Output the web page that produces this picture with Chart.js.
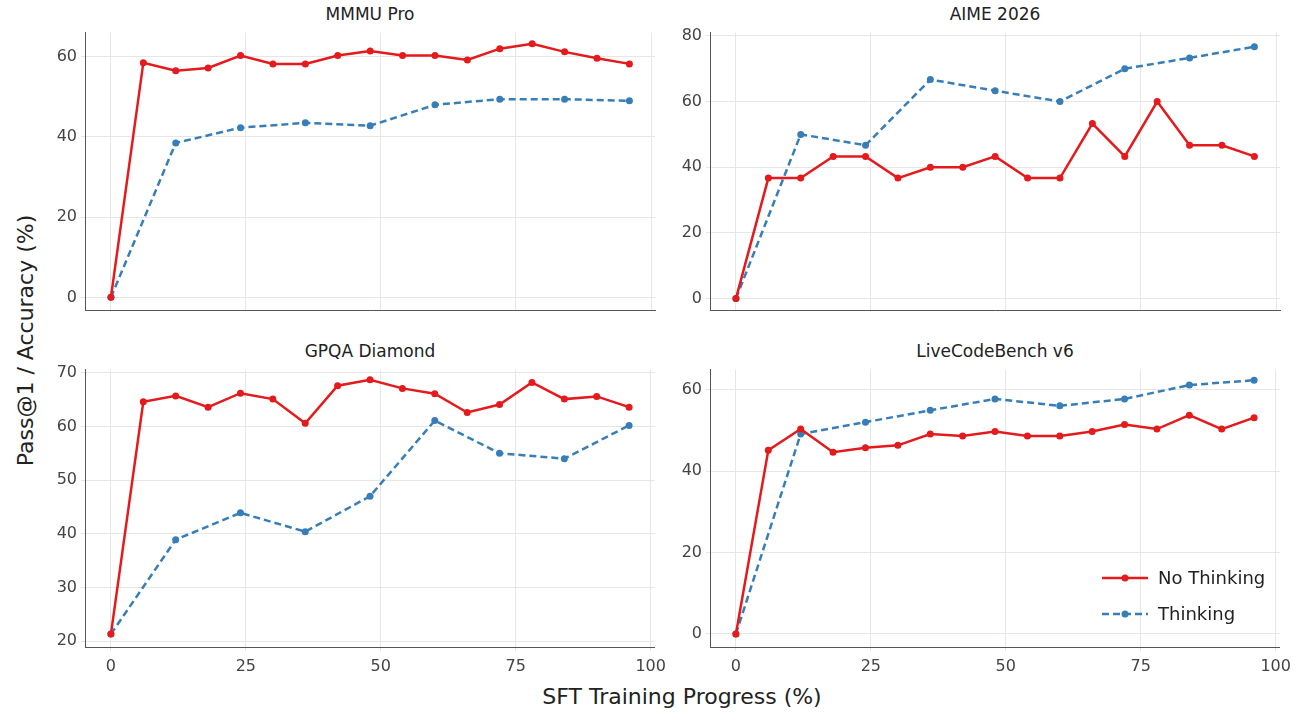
<!DOCTYPE html>
<html><head><meta charset="utf-8">
<script src="https://cdn.jsdelivr.net/npm/chart.js@4"></script>
<style>
body{margin:0;width:1307px;height:726px;background:#fff;font-family:"DejaVu Sans",sans-serif;position:relative;overflow:hidden}
.c{position:absolute}
.t{position:absolute;font-size:17px;color:#222;text-align:center;width:570px}
#leg{position:absolute;left:1100px;top:560px;font-size:18px;color:#222;line-height:36px}
#leg div{display:flex;align-items:center}
#leg svg{margin-right:8px}
</style></head><body>
<div class="t" style="left:85px;top:4px">MMMU Pro</div>
<div class="t" style="left:710px;top:4px">AIME 2026</div>
<div class="t" style="left:85px;top:341px">GPQA Diamond</div>
<div class="t" style="left:710px;top:341px">LiveCodeBench v6</div>
<div style="position:absolute;left:-130px;top:328px;width:310px;text-align:center;white-space:nowrap;transform:rotate(-90deg);font-size:22px;color:#222">Pass@1 / Accuracy (%)</div>
<div style="position:absolute;left:0;width:1364px;top:684px;text-align:center;font-size:22px;color:#222">SFT Training Progress (%)</div>
<canvas id="c1" class="c"></canvas><canvas id="c2" class="c"></canvas>
<canvas id="c3" class="c"></canvas><canvas id="c4" class="c"></canvas>
<div id="leg">
<div><svg width="50" height="12"><line x1="2" y1="6" x2="48" y2="6" stroke="#e41a1c" stroke-width="2.5"/><circle cx="25" cy="6" r="3.5" fill="#e41a1c"/></svg>No Thinking</div>
<div><svg width="50" height="12"><line x1="2" y1="6" x2="48" y2="6" stroke="#377eb8" stroke-width="2.5" stroke-dasharray="7,4"/><circle cx="25" cy="6" r="3.5" fill="#377eb8"/></svg>Thinking</div>
</div>
<script>
const xNo=[0,6,12,18,24,30,36,42,48,54,60,66,72,78,84,90,96];
const xTh=[0,12,24,36,48,60,72,84,96];
const xTicks=[0,25,50,75,100];
const mmmuNo=[0,58.5,56.5,57.2,60.3,58.2,58.2,60.3,61.4,60.3,60.3,59.2,62,63.2,61.2,59.6,58.2];
const mmmuTh=[0,38.5,42.3,43.5,42.8,48,49.4,49.4,49];
const aimeNo=[0,36.7,36.7,43.3,43.3,36.7,40,40,43.3,36.7,36.7,53.3,43.3,60,46.7,46.7,43.3];
const aimeTh=[0,50,46.7,66.7,63.3,60,70,73.3,76.7];
const gpqaNo=[21.3,64.6,65.7,63.6,66.2,65.1,60.6,67.6,68.7,67.1,66.1,62.6,64.1,68.2,65.1,65.6,63.6];
const gpqaTh=[21.3,38.9,43.9,40.4,47,61.1,55,54,60.2];
const lcbNo=[0,45.1,50.3,44.6,45.7,46.3,49.1,48.6,49.7,48.6,48.6,49.7,51.4,50.3,53.7,50.3,53.1];
const lcbTh=[0,49.1,52,54.9,57.7,56,57.7,61.1,62.3];
const yT1=[0,20,40,60],yT2=[0,20,40,60,80],yT3=[20,30,40,50,60,70],yT4=[0,20,40,60];
const zip=(xs,ys)=>xs.map((x,i)=>({x,y:ys[i]}));
function mk(id,pos,no,th,ymin,ymax,yt,bottom){
 const el=document.getElementById(id);
 const h=bottom?321:305, w=bottom?632:620;
 Object.assign(el.style,{left:pos[0]+'px',top:pos[1]+'px',width:w+'px',height:h+'px'});
 el.width=w;el.height=h;
 new Chart(el,{type:'line',data:{datasets:[
  {data:zip(xNo,no),borderColor:'#e41a1c',backgroundColor:'#e41a1c',borderWidth:2.5,pointRadius:3.5,pointBorderWidth:0,tension:0},
  {data:zip(xTh,th),borderColor:'#377eb8',backgroundColor:'#377eb8',borderWidth:2.5,borderDash:[7,4],pointRadius:3.5,pointBorderWidth:0,tension:0}]},
 options:{responsive:false,animation:false,layout:{padding:{top:5,right:5,bottom:0,left:0}},
  plugins:{legend:{display:false},tooltip:{enabled:false}},
  scales:{
   x:{type:'linear',min:-4.8,max:100.74,afterBuildTicks:a=>{a.ticks=xTicks.map(v=>({value:v}))},
     afterFit:a=>{a.height=bottom?30:0},
     ticks:{display:bottom,color:'#444',font:{size:16,family:'DejaVu Sans'},maxRotation:0,padding:6},
     grid:{color:'#e6e6e6',drawTicks:bottom,tickLength:4},border:{display:true,color:'#555'}},
   y:{min:ymin,max:ymax,afterBuildTicks:a=>{a.ticks=yt.map(v=>({value:v}))},
     afterFit:a=>{a.width=45},
     ticks:{color:'#444',font:{size:16,family:'DejaVu Sans'},padding:4},
     grid:{color:'#e6e6e6',tickLength:4},border:{display:true,color:'#555'}}}}});
}
mk('c1',[40,19],mmmuNo,mmmuTh,-3.25,66,yT1,false);
mk('c2',[665,19],aimeNo,aimeTh,-3.6,81,yT2,false);
mk('c3',[40,356],gpqaNo,gpqaTh,18.9,70.6,yT3,true);
mk('c4',[665,356],lcbNo,lcbTh,-3.2,64.9,yT4,true);
</script></body></html>
